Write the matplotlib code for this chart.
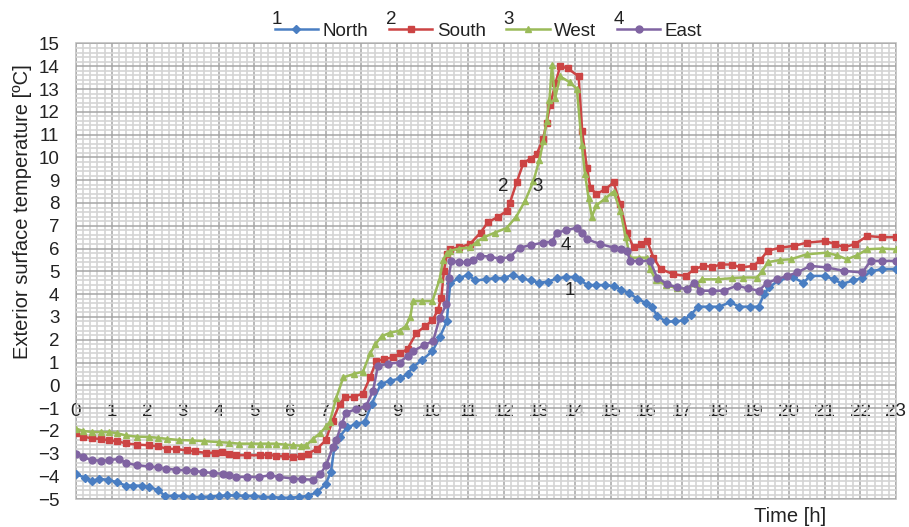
import matplotlib
matplotlib.use("Agg")
import matplotlib.pyplot as plt
from matplotlib.ticker import MultipleLocator

plt.rcParams['font.family'] = ['Liberation Sans', 'DejaVu Sans']

# values (time in h, temperature in degC)
north_t = [0, 0.25, 0.45, 0.65, 0.9, 1.15, 1.4, 1.6, 1.85, 2.05, 2.3, 2.5, 2.75, 3.0, 3.25, 3.5, 3.75,
           4.0, 4.25, 4.5, 4.75, 5.0, 5.25, 5.5, 5.75, 6.0, 6.25, 6.5, 6.75, 7.0, 7.15, 7.25, 7.4, 7.6,
           7.85, 8.1, 8.3, 8.55, 8.8, 9.1, 9.3, 9.45, 9.7, 10.0, 10.2, 10.4, 10.5, 10.75, 11.0, 11.2,
           11.5, 11.75, 12.0, 12.25, 12.5, 12.75, 13.0, 13.25, 13.5, 13.75, 14.0, 14.15, 14.35, 14.6,
           14.85, 15.1, 15.3, 15.5, 15.75, 16.0, 16.15, 16.3, 16.55, 16.8, 17.05, 17.25, 17.45, 17.75,
           18.05, 18.35, 18.6, 18.9, 19.15, 19.3, 19.45, 19.7, 20.1, 20.4, 20.6, 21.0, 21.25, 21.5,
           21.8, 22.05, 22.3, 22.6, 23.0]
north_v = [-3.9, -4.05, -4.2, -4.1, -4.15, -4.25, -4.4, -4.4, -4.4, -4.45, -4.6, -4.85, -4.85, -4.85,
           -4.9, -4.9, -4.88, -4.85, -4.83, -4.83, -4.85, -4.85, -4.9, -4.9, -4.93, -4.93, -4.9, -4.85,
           -4.7, -4.35, -3.8, -2.7, -2.25, -1.85, -1.7, -1.6, -0.8, 0.05, 0.2, 0.3, 0.5, 0.8, 1.1, 1.5,
           2.1, 2.8, 4.5, 4.7, 4.85, 4.6, 4.65, 4.7, 4.7, 4.85, 4.7, 4.6, 4.5, 4.55, 4.7, 4.75, 4.75,
           4.6, 4.4, 4.4, 4.4, 4.35, 4.2, 4.05, 3.8, 3.6, 3.45, 3.05, 2.8, 2.8, 2.85, 3.1, 3.45, 3.45,
           3.45, 3.65, 3.45, 3.45, 3.45, 4.0, 4.3, 4.6, 4.75, 4.5, 4.8, 4.8, 4.65, 4.45, 4.6, 4.7, 5.0,
           5.1, 5.1]

south_t = [0, 0.2, 0.45, 0.7, 0.93, 1.15, 1.4, 1.7, 2.05, 2.3, 2.55, 2.8, 3.1, 3.35, 3.65, 3.9, 4.1,
           4.3, 4.5, 4.8, 5.15, 5.4, 5.6, 5.85, 6.1, 6.3, 6.5, 6.75, 7.0, 7.2, 7.4, 7.55, 7.8, 8.05,
           8.25, 8.42, 8.65, 8.9, 9.1, 9.3, 9.55, 9.8, 10.0, 10.15, 10.25, 10.32, 10.4, 10.5, 10.75,
           11.05, 11.35, 11.55, 11.85, 12.08, 12.17, 12.36, 12.55, 12.75, 12.92, 13.1, 13.2, 13.3,
           13.45, 13.58, 13.8, 14.1, 14.2, 14.33, 14.43, 14.6, 14.85, 15.08, 15.27, 15.45, 15.64,
           15.85, 16.02, 16.2, 16.4, 16.75, 17.1, 17.35, 17.6, 17.85, 18.1, 18.4, 18.65, 19.0, 19.2,
           19.4, 19.75, 20.15, 20.5, 21.0, 21.3, 21.55, 21.85, 22.2, 22.6, 23.0]
south_v = [-2.1, -2.25, -2.33, -2.35, -2.42, -2.45, -2.55, -2.6, -2.63, -2.68, -2.78, -2.8, -2.85,
           -2.9, -2.97, -2.95, -2.93, -3.0, -3.07, -3.07, -3.07, -3.05, -3.1, -3.12, -3.15, -3.12,
           -3.0, -2.8, -2.42, -1.55, -0.8, -0.53, -0.5, -0.36, 0.35, 1.05, 1.15, 1.23, 1.4, 1.6, 2.3,
           2.6, 2.85, 3.3, 3.85, 5.0, 5.75, 5.98, 6.05, 6.2, 6.7, 7.15, 7.4, 7.65, 8.0, 8.9, 9.75,
           9.95, 10.13, 10.8, 11.5, 12.3, 13.25, 14.0, 13.9, 13.55, 11.15, 9.55, 8.65, 8.4, 8.6, 8.9,
           7.95, 6.7, 6.05, 6.2, 6.33, 5.6, 5.1, 4.88, 4.8, 5.1, 5.24, 5.2, 5.3, 5.3, 5.17, 5.24, 5.5,
           5.9, 6.04, 6.12, 6.26, 6.33, 6.2, 6.05, 6.2, 6.55, 6.5, 6.5]

west_t = [0, 0.2, 0.45, 0.7, 0.93, 1.15, 1.4, 1.7, 2.05, 2.3, 2.55, 2.9, 3.26, 3.6, 4.0, 4.3, 4.58,
          4.9, 5.15, 5.4, 5.6, 5.85, 6.1, 6.3, 6.46, 6.65, 6.85, 7.02, 7.12, 7.3, 7.5, 7.8, 8.05, 8.25,
          8.4, 8.57, 8.8, 9.08, 9.25, 9.38, 9.45, 9.7, 10.0, 10.2, 10.3, 10.4, 10.5, 10.75, 11.05,
          11.25, 11.45, 11.75, 12.08, 12.35, 12.6, 12.83, 13.0, 13.11, 13.2, 13.28, 13.35, 13.44,
          13.58, 13.85, 14.05, 14.19, 14.28, 14.38, 14.47, 14.6, 14.85, 15.08, 15.27, 15.42, 15.55,
          15.8, 16.02, 16.1, 16.28, 16.55, 16.86, 17.14, 17.42, 17.55, 18.0, 18.4, 18.7, 19.1, 19.25,
          19.4, 19.75, 20.05, 20.5, 21.07, 21.35, 21.63, 21.9, 22.2, 22.6, 23.0]
west_v = [-1.9, -2.0, -2.05, -2.05, -2.05, -2.1, -2.2, -2.25, -2.27, -2.3, -2.35, -2.4, -2.42, -2.45,
          -2.49, -2.52, -2.56, -2.56, -2.56, -2.56, -2.56, -2.6, -2.63, -2.65, -2.63, -2.35, -2.1,
          -1.8, -1.6, -0.55, 0.35, 0.5, 0.6, 1.4, 1.8, 2.15, 2.3, 2.4, 2.6, 3.0, 3.7, 3.7, 3.7, 4.65,
          5.5, 5.8, 5.9, 6.0, 6.05, 6.3, 6.5, 6.7, 6.9, 7.4, 8.1, 8.95, 9.9, 10.7, 11.6, 12.5, 14.05,
          12.6, 13.55, 13.3, 13.0, 10.55, 9.25, 8.2, 7.4, 7.9, 8.2, 8.5, 7.65, 6.5, 5.6, 5.6, 5.6,
          5.1, 4.6, 4.4, 4.25, 4.25, 4.45, 4.65, 4.65, 4.7, 4.73, 4.73, 5.0, 5.4, 5.5, 5.53, 5.75,
          5.82, 5.7, 5.53, 5.7, 5.97, 6.0, 5.97]

east_t = [0, 0.2, 0.46, 0.7, 0.93, 1.2, 1.4, 1.7, 2.05, 2.3, 2.52, 2.8, 3.08, 3.3, 3.55, 3.85, 4.11,
          4.3, 4.5, 4.8, 5.14, 5.43, 5.7, 6.08, 6.35, 6.65, 6.85, 7.02, 7.2, 7.3, 7.45, 7.58, 7.85,
          8.14, 8.33, 8.47, 8.75, 9.08, 9.3, 9.45, 9.75, 10.02, 10.2, 10.39, 10.45, 10.53, 10.75,
          10.96, 11.15, 11.33, 11.6, 11.89, 12.17, 12.45, 12.75, 13.1, 13.35, 13.49, 13.75, 14.05,
          14.2, 14.33, 14.7, 15.08, 15.3, 15.45, 15.55, 15.8, 16.1, 16.3, 16.58, 16.85, 17.14, 17.33,
          17.51, 17.85, 18.17, 18.54, 18.85, 19.15, 19.39, 19.67, 19.95, 20.23, 20.6, 21.07, 21.54,
          22.06, 22.29, 22.6, 23.0]
east_v = [-3.0, -3.15, -3.29, -3.3, -3.29, -3.22, -3.41, -3.5, -3.56, -3.6, -3.66, -3.7, -3.73,
          -3.75, -3.8, -3.85, -3.88, -3.95, -4.02, -4.02, -4.02, -3.95, -4.02, -4.09, -4.12, -4.14,
          -3.9, -3.5, -2.7, -2.42, -1.7, -1.2, -1.05, -0.9, -0.25, 0.85, 0.95, 1.0, 1.3, 1.5, 1.75,
          1.95, 2.95, 3.55, 4.7, 5.45, 5.4, 5.4, 5.5, 5.68, 5.65, 5.55, 5.63, 6.04, 6.15, 6.26, 6.3,
          6.7, 6.8, 6.92, 6.7, 6.41, 6.2, 6.04, 6.0, 5.9, 5.46, 5.46, 5.46, 4.73, 4.44, 4.3, 4.22,
          4.51, 4.15, 4.15, 4.15, 4.37, 4.25, 4.15, 4.5, 4.66, 4.8, 4.95, 5.24, 5.17, 5.02, 4.95,
          5.46, 5.46, 5.46]

series = [
    ("North", north_t, north_v, "#4A7EC2", "D", 4.0),
    ("South", south_t, south_v, "#CC4444", "s", 4.5),
    ("West", west_t, west_v, "#9BBB59", "^", 5.0),
    ("East", east_t, east_v, "#8064A2", "o", 5.0),
]
numbers = ["1", "2", "3", "4"]

FS = 13.5
TXT = '#222222'

fig = plt.figure(figsize=(9.09, 5.27), dpi=100)
ax = fig.add_axes([0.0836, 0.0526, 0.902, 0.865])

for name, t, v, col, mk, ms in series:
    ax.plot(t, v, color=col, marker=mk, markersize=ms, linewidth=1.8, label=name)

ax.set_xlim(0, 23)
ax.set_ylim(-5, 15)
ax.xaxis.set_major_locator(MultipleLocator(1))
ax.yaxis.set_major_locator(MultipleLocator(1))
ax.xaxis.set_minor_locator(MultipleLocator(0.2))
ax.yaxis.set_minor_locator(MultipleLocator(0.2))
ax.grid(which='major', color='#A6A6A6', linewidth=1.1)
ax.grid(which='minor', color='#D4D4D4', linewidth=1.2)
ax.set_axisbelow(True)

# x axis crosses at y = 0
ax.spines['bottom'].set_position(('data', 0))
for s in ax.spines.values():
    s.set_visible(False)
ax.patch.set_edgecolor('#BFBFBF')
ax.patch.set_linewidth(1.2)

ax.tick_params(which='both', length=0, labelsize=FS, colors=TXT)
ax.tick_params(axis='y', pad=12)
ax.tick_params(axis='x', pad=13)

ax.set_ylabel("Exterior surface temperature [ºC]", fontsize=14.5, color=TXT)
ax.yaxis.set_label_coords(-0.054, 0.63)
ax.text(0.871, -0.037, "Time [h]", transform=ax.transAxes, ha='center', va='center',
        fontsize=14.5, color=TXT)

# curve labels inside the plot
ax.text(13.86, 4.18, "1", fontsize=FS, ha='center', va='center', color=TXT)
ax.text(11.98, 8.74, "2", fontsize=FS, ha='center', va='center', color=TXT)
ax.text(12.96, 8.74, "3", fontsize=FS, ha='center', va='center', color=TXT)
ax.text(13.74, 6.15, "4", fontsize=FS, ha='center', va='center', color=TXT)

leg = fig.legend(loc='center', bbox_to_anchor=(488.5 / 909, 1 - 31 / 527), ncol=4,
                 frameon=False, fontsize=FS, handlelength=2.3, handletextpad=0.25,
                 columnspacing=1.1, borderaxespad=0)
for txt in leg.get_texts():
    txt.set_color(TXT)

fig.canvas.draw()
renderer = fig.canvas.get_renderer()
for h, num in zip(leg.legend_handles, numbers):
    bb = h.get_window_extent(renderer)
    ymid = (bb.y0 + bb.y1) / 2
    fig.text(bb.x0 / fig.bbox.width, (ymid + 5) / fig.bbox.height, num, fontsize=FS,
             ha='left', va='baseline', color=TXT)

fig.savefig("out.png", dpi=100)
